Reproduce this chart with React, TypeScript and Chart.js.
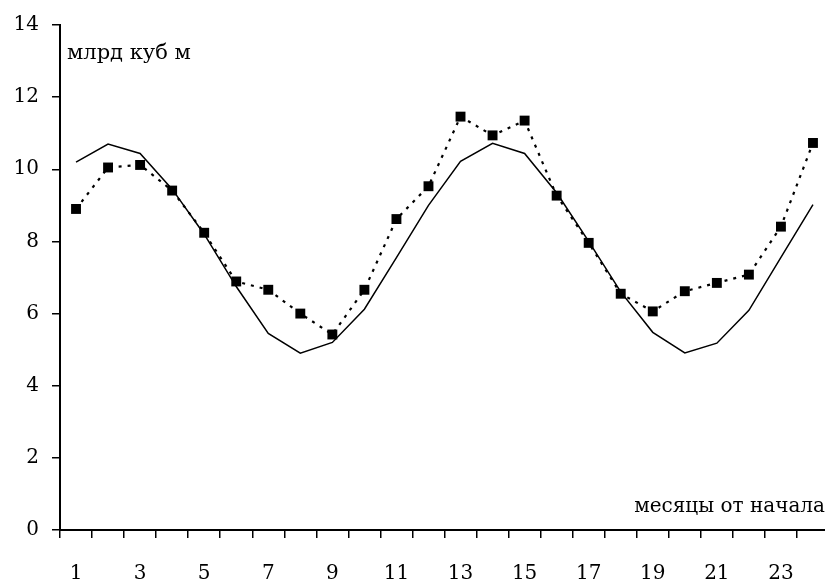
import React, { useEffect, useRef } from 'react';
import { Chart, registerables } from 'chart.js';

Chart.register(...registerables);

const months: string[] = ['1','2','3','4','5','6','7','8','9','10','11','12','13','14','15','16','17','18','19','20','21','22','23','24'];
const modelValues: number[] = [10.2, 10.7, 10.44, 9.45, 8.2, 6.75, 5.45, 4.9, 5.2, 6.12, 7.55, 9.0, 10.22, 10.72, 10.44, 9.35, 8.0, 6.6, 5.48, 4.91, 5.18, 6.09, 7.56, 9.02];
const actualValues: number[] = [8.9, 10.05, 10.12, 9.41, 8.24, 6.89, 6.66, 6.0, 5.42, 6.66, 8.62, 9.53, 11.46, 10.94, 11.35, 9.27, 7.96, 6.55, 6.06, 6.62, 6.85, 7.08, 8.41, 10.73];
const yTicks: number[] = [0, 2, 4, 6, 8, 10, 12, 14];
const yTitle = 'млрд куб м';
const xTitle = 'месяцы от начала';

const FONT = '"DejaVu Serif", "Liberation Serif", serif';

const textPlugin = {
  id: 'axisTexts',
  afterDraw(chart: any) {
    const { ctx, chartArea } = chart;
    ctx.save();
    ctx.fillStyle = '#000';
    ctx.textBaseline = 'alphabetic';
    ctx.font = `21px ${FONT}`;
    ctx.textAlign = 'left';
    ctx.fillText(yTitle, chartArea.left + 7, chartArea.top + 34);
    ctx.font = `20px ${FONT}`;
    ctx.textAlign = 'right';
    ctx.fillText(xTitle, 825, chartArea.bottom - 18);
    ctx.restore();
  },
};

export default function App() {
  const ref = useRef<HTMLCanvasElement>(null);
  useEffect(() => {
    if (!ref.current) return;
    const chart = new Chart(ref.current, {
      type: 'line',
      data: {
        labels: months,
        datasets: [
          {
            label: 'model',
            data: modelValues,
            borderColor: '#000',
            borderWidth: 1.5,
            pointRadius: 0,
            tension: 0,
            fill: false,
          },
          {
            label: 'actual',
            data: actualValues,
            borderColor: '#000',
            borderWidth: 2.2,
            borderDash: [3, 6],
            pointStyle: 'rect',
            pointRadius: 7,
            pointBackgroundColor: '#000',
            pointBorderColor: '#000',
            pointBorderWidth: 0,
            tension: 0,
            fill: false,
          },
        ],
      },
      options: {
        animation: false,
        responsive: false,
        maintainAspectRatio: false,
        layout: { padding: { top: 24, right: 11, left: 0, bottom: 0 } },
        plugins: { legend: { display: false }, tooltip: { enabled: false } },
        scales: {
          x: {
            type: 'category',
            offset: true,
            grid: {
              display: true,
              offset: true,
              drawOnChartArea: false,
              drawTicks: true,
              tickLength: 8,
              color: '#000',
              lineWidth: 1.5,
            },
            border: { display: true, color: '#000', width: 2 },
            ticks: {
              autoSkip: false,
              maxRotation: 0,
              color: '#000',
              font: { family: FONT, size: 20 },
              padding: 24,
              callback: (_v: any, i: number) => (i % 2 === 0 ? months[i] : ''),
            },
            afterFit: (scale: any) => { scale.height = 57; },
          },
          y: {
            min: 0,
            max: 14,
            afterBuildTicks: (scale: any) => { scale.ticks = yTicks.map((v) => ({ value: v })); },
            grid: {
              display: true,
              drawOnChartArea: false,
              drawTicks: true,
              tickLength: 8,
              color: '#000',
              lineWidth: 1.5,
            },
            border: { display: true, color: '#000', width: 2 },
            ticks: {
              color: '#000',
              font: { family: FONT, size: 20 },
              padding: 13,
            },
            afterFit: (scale: any) => { scale.width = 60; },
          },
        },
      },
      plugins: [textPlugin],
    });
    return () => chart.destroy();
  }, []);
  return (
    <div style={{ position: 'fixed', left: 0, top: 0, width: 825, height: 587, overflow: 'hidden', background: '#fff' }}>
      <canvas ref={ref} width={840} height={587} style={{ width: 840, height: 587, display: 'block' }} />
    </div>
  );
}
